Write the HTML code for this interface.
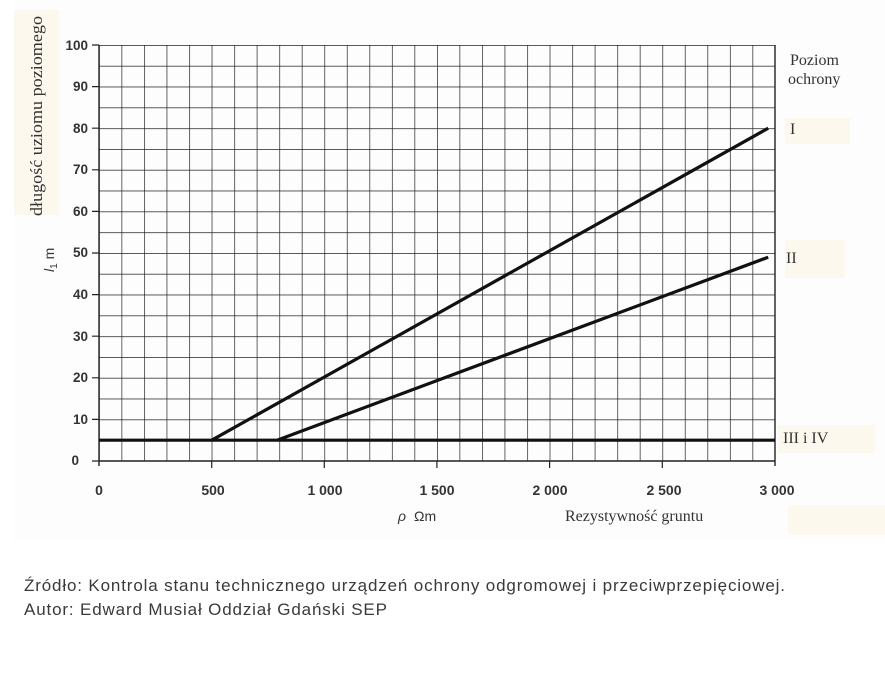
<!DOCTYPE html>
<html><head><meta charset="utf-8"><style>
body{margin:0;background:#fff;width:885px;height:690px;overflow:hidden;font-family:"Liberation Sans",sans-serif}
.cap{position:absolute;left:24px;font-size:17px;color:#3a3a3a;letter-spacing:0.85px}
</style></head><body>
<svg width="885" height="545" style="position:absolute;left:0;top:0">
<rect x="14" y="0" width="871" height="540" fill="#fdfdfd"/>
<rect x="14" y="10" width="45" height="205" fill="#fdf8ee"/>
<rect x="785" y="118" width="65" height="26" fill="#fdf8ee"/>
<rect x="785" y="240" width="60" height="38" fill="#fdf8ee"/>
<rect x="778" y="425" width="97" height="28" fill="#fdf8ee"/>
<rect x="788" y="505" width="97" height="30" fill="#fdf8ee"/>
<defs><pattern id="g" x="99" y="45" width="22.533" height="20.8" patternUnits="userSpaceOnUse">
<path d="M0 0V20.8M0 0H22.533" stroke="#222" stroke-width="1.4" fill="none"/></pattern></defs>
<rect x="99" y="45" width="676" height="416" fill="url(#g)"/>
<path d="M775 45V466M99 461H775M99 45V466" stroke="#222" stroke-width="1.4"/>
<g stroke="#222" stroke-width="1.2">
<path d="M92 45H99M92 86.6H99M92 128.2H99M92 169.8H99M92 211.4H99M92 253H99M92 294.6H99M92 336.2H99M92 377.8H99M92 419.4H99M92 461H99"/>
<path d="M211.7 461V468M324.3 461V468M436.9 461V468M549.6 461V468M662.3 461V468"/>
</g>
<g font-size="13.5" font-weight="bold" fill="#333" text-anchor="end">
<text x="88" y="50">100</text><text x="88" y="91">90</text><text x="88" y="133">80</text><text x="88" y="174">70</text><text x="88" y="216">60</text><text x="88" y="257">50</text><text x="88" y="299">40</text><text x="88" y="341">30</text><text x="88" y="382">20</text><text x="88" y="424">10</text><text x="79" y="465">0</text>
</g>
<g font-size="14" font-weight="bold" fill="#333" text-anchor="middle">
<text x="99" y="495">0</text><text x="213" y="495">500</text><text x="325" y="495">1 000</text><text x="437" y="495">1 500</text><text x="550" y="495">2 000</text><text x="664" y="495">2 500</text><text x="777" y="495">3 000</text>
</g>
<path d="M99 440.2H775M211.7 440.2L768.2 128.2M277 440.2L768.2 257.2" stroke="#111" stroke-width="3.2" fill="none"/>
<g font-family="Liberation Serif,serif" font-size="16" fill="#333">
<text x="790" y="65">Poziom</text><text x="788" y="84">ochrony</text>
<text x="790" y="134">I</text><text x="786" y="263">II</text><text x="783" y="443">III i IV</text>
<text x="565" y="521">Rezystywność gruntu</text>
<text font-size="17" transform="translate(42,216) rotate(-90)" textLength="200" lengthAdjust="spacingAndGlyphs">długość uziomu poziomego</text>
</g>
<text x="398" y="521" font-size="14" font-style="italic" fill="#333">ρ</text>
<text x="414" y="521" font-size="14" fill="#333">Ωm</text>
<text transform="translate(54,272) rotate(-90)" font-size="14" fill="#333"><tspan font-style="italic">l</tspan><tspan font-size="10" dy="3">1</tspan><tspan dy="-3">  m</tspan></text>
</svg>
<div class="cap" style="top:576px">Źródło: Kontrola stanu technicznego urządzeń ochrony odgromowej i przeciwprzepięciowej.</div>
<div class="cap" style="top:600px">Autor: Edward Musiał Oddział Gdański SEP</div>
</body></html>
